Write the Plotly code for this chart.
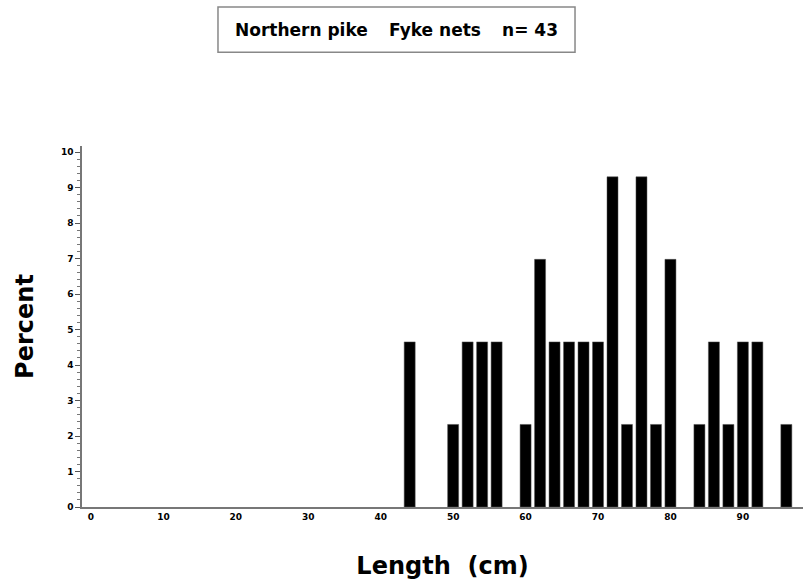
import plotly.graph_objects as go

# Length bins (cm, bin centres) and percent of catch
length_cm = [44, 50, 52, 54, 56, 60, 62, 64, 66, 68, 70, 72, 74, 76, 78, 80, 84, 86, 88, 90, 92, 96]
counts = [2, 1, 2, 2, 2, 1, 3, 2, 2, 2, 2, 4, 1, 4, 1, 3, 1, 2, 1, 2, 2, 1]
n_total = 43
percent = [c / n_total * 100 for c in counts]

x_ticks = [0, 10, 20, 30, 40, 50, 60, 70, 80, 90]
y_ticks = [0, 1, 2, 3, 4, 5, 6, 7, 8, 9, 10]

gap = "\u00a0\u00a0\u00a0\u2009"
title_text = "Northern pike" + gap + "Fyke nets" + gap + "n=\u00a043"

fig = go.Figure()
fig.add_trace(go.Bar(
    x=length_cm, y=percent, width=1.52,
    marker=dict(color="black", line=dict(color="#555555", width=0.5)),
    showlegend=False,
))

font_fam = "DejaVu Sans, Verdana, sans-serif"

fig.update_layout(
    width=803, height=583,
    margin=dict(l=82, r=0, t=146, b=76),
    paper_bgcolor="white", plot_bgcolor="white",
    font=dict(family=font_fam, color="black"),
    xaxis=dict(
        range=[-1.24, 98.3],
        tickmode="array", tickvals=x_ticks,
        ticktext=[f"<b>{v}</b>" for v in x_ticks],
        ticks="", showgrid=False, zeroline=False,
        showline=True, linecolor="#777777", linewidth=1.5,
        tickfont=dict(size=9, family=font_fam),
        title=dict(text="<b>Length  (cm)</b>", font=dict(size=24, family=font_fam), standoff=37),
    ),
    yaxis=dict(
        range=[0, 10.17],
        tickmode="array", tickvals=y_ticks,
        ticktext=[f"<b>{v}</b>" for v in y_ticks],
        ticks="outside", ticklen=5, tickwidth=1, tickcolor="#555555",
        minor=dict(dtick=0.2, ticks="outside", ticklen=3, tickwidth=1, tickcolor="#777777"),
        showgrid=False, zeroline=False,
        showline=True, linecolor="#777777", linewidth=1.5,
        tickfont=dict(size=9, family=font_fam),
        title=dict(text="<b>Percent</b>", font=dict(size=24, family=font_fam), standoff=21),
    ),
    shapes=[dict(
        type="rect", xref="paper", yref="paper",
        x0=0.1886, x1=0.6838, y0=1.260, y1=1.385,
        line=dict(color="#888888", width=1.5), fillcolor="white",
    )],
    annotations=[dict(
        text="<b>" + title_text + "</b>",
        xref="paper", yref="paper", x=0.4362, y=1.3225,
        xanchor="center", yanchor="middle", showarrow=False,
        font=dict(size=17, family=font_fam, color="black"),
    )],
)

fig.write_html(
    "out.html",
    config={"displayModeBar": False},
    post_script="document.body.style.margin='0px';",
)
